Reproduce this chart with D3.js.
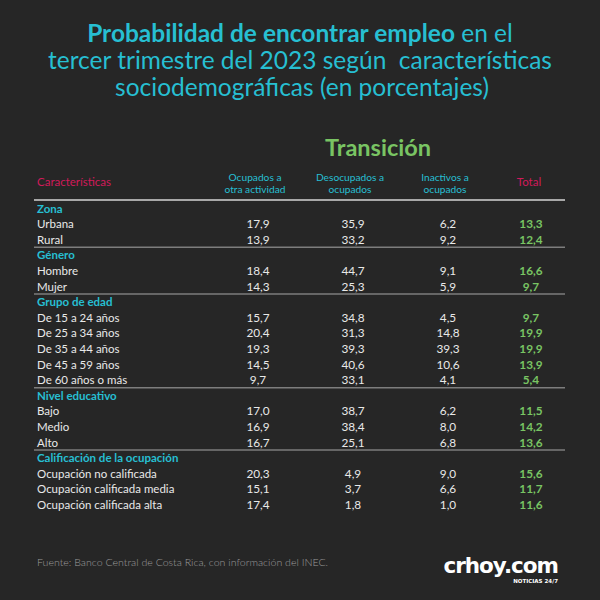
<!DOCTYPE html>
<html><head><meta charset="utf-8">
<script src="https://cdn.jsdelivr.net/npm/d3@7"></script>
<style>html,body{margin:0;padding:0;background:#262626;}svg{display:block;}</style>
</head><body>
<div id="chart"></div>
<script>
// ---- data ----
const groups = ["Zona","Género","Grupo de edad","Nivel educativo","Calificación de la ocupación"];
const categories = [
  ["Urbana","Rural"],
  ["Hombre","Mujer"],
  ["De 15 a 24 años","De 25 a 34 años","De 35 a 44 años","De 45 a 59 años","De 60 años o más"],
  ["Bajo","Medio","Alto"],
  ["Ocupación no calificada","Ocupación calificada media","Ocupación calificada alta"]
];
const ocupadosOtra = [17.9,13.9,18.4,14.3,15.7,20.4,19.3,14.5,9.7,17.0,16.9,16.7,20.3,15.1,17.4];
const desocupadosOcupados = [35.9,33.2,44.7,25.3,34.8,31.3,39.3,40.6,33.1,38.7,38.4,25.1,4.9,3.7,1.8];
const inactivosOcupados = [6.2,9.2,9.1,5.9,4.5,14.8,39.3,10.6,4.1,6.2,8.0,6.8,9.0,6.6,1.0];
const total = [13.3,12.4,16.6,9.7,9.7,19.9,19.9,13.9,5.4,11.5,14.2,13.6,15.6,11.7,11.6];
const columnHeaders = [["Ocupados a","otra actividad"],["Desocupados a","ocupados"],["Inactivos a","ocupados"],["Total"]];
const titleBold = "Probabilidad de encontrar empleo";
const titleLines = [" en el","tercer trimestre del 2023 según  características","sociodemográficas (en porcentajes)"];
const superHeader = "Transición";
const firstHeader = "Características";
const source = "Fuente: Banco Central de Costa Rica, con información del INEC.";

// ---- build table ----
const rows = [];
let k = 0;
groups.forEach((g, gi) => {
  rows.push({key:"g"+gi, type:"group", label:g, gi});
  categories[gi].forEach((c) => {
    rows.push({key:"r"+k, type:"row", label:c, gi, vals:[ocupadosOtra[k],desocupadosOcupados[k],inactivosOcupados[k],total[k]]});
    k++;
  });
});

const W = 600, H = 600;
const FONT = "Lato, 'Noto Sans', sans-serif";
const CYAN = "#27bfd2", GREEN = "#79c463", MAGENTA = "#d11a5a", TXT = "#e9e9e9";
const svg = d3.select("#chart").append("svg").attr("width",W).attr("height",H);
svg.append("rect").attr("width",W).attr("height",H).attr("fill","#262626");

// title
const TS = 24.5;
const t1 = svg.append("text").attr("x",300).attr("y",42).attr("text-anchor","middle")
  .attr("font-family",FONT).attr("font-size",TS).attr("fill",CYAN);
t1.append("tspan").attr("font-weight",700).text(titleBold);
t1.append("tspan").attr("font-weight",400).text(titleLines[0]);
svg.append("text").attr("x",300).attr("y",69).attr("text-anchor","middle")
  .attr("font-family",FONT).attr("font-size",TS).attr("fill",CYAN).attr("xml:space","preserve").text(titleLines[1]);
svg.append("text").attr("x",302).attr("y",96).attr("text-anchor","middle")
  .attr("font-family",FONT).attr("font-size",TS).attr("fill",CYAN).text(titleLines[2]);

// scales
const cols = ["ocupadosOtra","desocupadosOcupados","inactivosOcupados","total"];
const x = d3.scaleOrdinal().domain(cols).range([258,353,448,531]);
const y = d3.scalePoint().domain(rows.map(r=>r.key)).range([208.3,504.7]);
const step = y.step();
const fmt = d3.formatLocale({decimal:",",thousands:".",grouping:[3],currency:["",""]}).format(".1f");
const LEFT = 37, LINE_X0 = 34, LINE_X1 = 565;

// super header
svg.append("text").attr("x",378).attr("y",156).attr("text-anchor","middle")
  .attr("font-family",FONT).attr("font-weight",700).attr("font-size",23.5).attr("fill",GREEN).text(superHeader);

// column headers
svg.append("text").attr("x",LEFT).attr("y",186).attr("font-family",FONT).attr("font-size",11.5)
  .attr("fill",MAGENTA).text(firstHeader);
cols.forEach((c,i) => {
  const lines = columnHeaders[i];
  const isTotal = lines.length === 1;
  if (isTotal) {
    svg.append("text").attr("x",x(c)-2).attr("y",186).attr("text-anchor","middle").attr("font-family",FONT)
      .attr("font-size",11.5).attr("fill",MAGENTA).text(lines[0]);
  } else {
    lines.forEach((l,j)=> svg.append("text").attr("x",x(c)-3).attr("y",181+j*12.4)
      .attr("text-anchor","middle").attr("font-family",FONT)
      .attr("font-size",10.2).attr("fill",CYAN).text(l));
  }
});

// header line
svg.append("line").attr("x1",LINE_X0).attr("x2",LINE_X1).attr("y1",200).attr("y2",200)
  .attr("stroke","#a8a8a8").attr("stroke-width",2);

// rows
const g = svg.append("g");
rows.forEach(r => {
  const cy = y(r.key);
  if (r.type === "group") {
    g.append("text").attr("x",LEFT).attr("y",cy+4.2).attr("font-family",FONT).attr("font-weight",700)
      .attr("font-size",11.5).attr("fill",CYAN).text(r.label);
  } else {
    g.append("text").attr("x",LEFT).attr("y",cy+4.2).attr("font-family",FONT)
      .attr("font-size",11.5).attr("fill",TXT).text(r.label);
    r.vals.forEach((v,i)=>{
      g.append("text").attr("x",x(cols[i])).attr("y",cy+4.2).attr("text-anchor","middle")
        .attr("font-family",FONT).attr("font-size",11.8)
        .attr("font-weight", i===3?700:400)
        .attr("fill", i===3?GREEN:TXT).text(fmt(v));
    });
  }
});
// separators after each group except the last
let idx = 0;
groups.forEach((gname,gi)=>{
  idx += 1 + categories[gi].length;
  if (gi < groups.length-1) {
    const last = rows[idx-1];
    const ly = y(last.key) + step/2;
    svg.append("line").attr("x1",LINE_X0).attr("x2",LINE_X1).attr("y1",ly).attr("y2",ly)
      .attr("stroke","#7d7d7d").attr("stroke-width",1.5);
  }
});

// footer
svg.append("text").attr("x",LEFT).attr("y",566).attr("font-family",FONT).attr("font-weight",300)
  .attr("font-size",10.6).attr("fill","#9c9c9c").text(source);
svg.append("text").attr("x",558).attr("y",573).attr("text-anchor","end")
  .attr("font-family","'DejaVu Sans', sans-serif").attr("font-weight",700).attr("font-size",21.5)
  .attr("letter-spacing",-1).attr("fill","#ffffff").text("crhoy.com");
svg.append("text").attr("x",558).attr("y",583).attr("text-anchor","end")
  .attr("font-family","'DejaVu Sans', sans-serif").attr("font-weight",700).attr("font-size",5.5)
  .attr("fill","#ffffff").text("NOTICIAS 24/7");
</script>
</body></html>
